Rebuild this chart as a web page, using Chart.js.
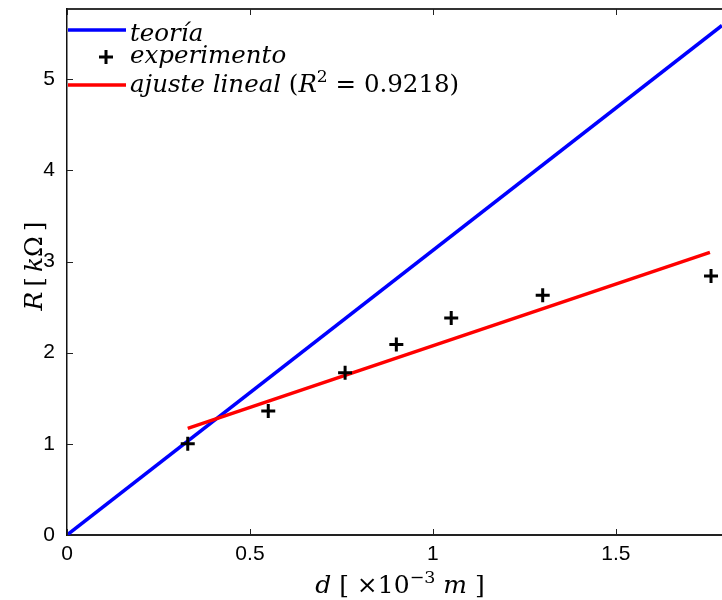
<!DOCTYPE html>
<html>
<head>
<meta charset="utf-8">
<script src="https://cdn.jsdelivr.net/npm/chart.js@4.4.1/dist/chart.umd.min.js"></script>
<style>
html,body{margin:0;padding:0;background:#fff;overflow:hidden;}
canvas{display:block;}
</style>
</head>
<body>
<canvas id="c" width="722" height="600"></canvas>
<script>
// ---- data ----
const dTheory = [0, 1.79];
const RTheory = [0, 5.59];
const dExp = [0.33, 0.55, 0.76, 0.90, 1.05, 1.30, 1.76];
const RExp = [1.00, 1.36, 1.78, 2.09, 2.38, 2.63, 2.84];
const dFit = [0.33, 1.757];
const RFit = [1.17, 3.10];
const xTicks = [0, 0.5, 1, 1.5];
const yTicks = [0, 1, 2, 3, 4, 5];
const xRange = [0, 1.79];
const yRange = [0, 5.77];
const legendLabels = ['teoría', 'experimento', 'ajuste lineal'];
const fitR2 = '0.9218';

const toPts = (xs, ys) => xs.map((x, i) => ({x: x, y: ys[i]}));

const SERIF = '"DejaVu Serif", "Liberation Serif", serif';
const SANS = '"Liberation Sans", Arial, sans-serif';

function drawRuns(ctx, runs, x, y, size, align) {
  const measure = r => {
    const s = r.sup ? size * 0.7 : size;
    ctx.font = (r.it ? 'italic ' : '') + s + 'px ' + SERIF;
    return ctx.measureText(r.t).width;
  };
  let total = 0;
  runs.forEach(r => total += measure(r));
  let cx = align === 'center' ? x - total / 2 : x;
  ctx.textBaseline = 'alphabetic';
  ctx.textAlign = 'left';
  runs.forEach(r => {
    const w = measure(r);
    ctx.fillText(r.t, cx, r.sup ? y - size * 0.42 : y);
    cx += w;
  });
}

const decor = {
  id: 'decor',
  afterDatasetsDraw(chart) {
    const ctx = chart.ctx;
    const a = chart.chartArea;
    const xs = chart.scales.x, ys = chart.scales.y;
    ctx.save();
    ctx.strokeStyle = '#222';
    ctx.lineWidth = 1;
    xs.ticks.forEach(t => {
      const px = Math.round(xs.getPixelForValue(t.value)) + 0.5;
      ctx.beginPath();
      ctx.moveTo(px, a.bottom); ctx.lineTo(px, a.bottom - 6);
      ctx.moveTo(px, a.top); ctx.lineTo(px, a.top + 6);
      ctx.stroke();
    });
    ys.ticks.forEach(t => {
      const py = Math.round(ys.getPixelForValue(t.value)) + 0.5;
      ctx.beginPath();
      ctx.moveTo(a.left, py); ctx.lineTo(a.left + 6, py);
      ctx.stroke();
    });
    // legend
    const lx0 = a.left + 1, lx1 = a.left + 59, tx = a.left + 63;
    const rows = [a.top + 21, a.top + 48, a.top + 76];
    ctx.lineWidth = 3.5;
    ctx.strokeStyle = '#0000ff';
    ctx.beginPath(); ctx.moveTo(lx0, rows[0]); ctx.lineTo(lx1, rows[0]); ctx.stroke();
    ctx.strokeStyle = '#ff0000';
    ctx.beginPath(); ctx.moveTo(lx0, rows[2]); ctx.lineTo(lx1, rows[2]); ctx.stroke();
    ctx.strokeStyle = '#000';
    ctx.lineWidth = 3;
    const mx = (lx0 + lx1) / 2 + 9, my = rows[1];
    ctx.beginPath();
    ctx.moveTo(mx - 7, my); ctx.lineTo(mx + 7, my);
    ctx.moveTo(mx, my - 7); ctx.lineTo(mx, my + 7);
    ctx.stroke();
    ctx.fillStyle = '#000';
    const fs = 24.5;
    drawRuns(ctx, [{t: legendLabels[0], it: true}], tx, rows[0] + 11, fs);
    drawRuns(ctx, [{t: legendLabels[1], it: true}], tx, rows[1] + 6, fs);
    drawRuns(ctx, [{t: legendLabels[2], it: true}, {t: ' (', it: false}, {t: 'R', it: true},
      {t: '2', sup: true}, {t: ' = ' + fitR2 + ')', it: false}], tx, rows[2] + 7, fs);
    // axis titles
    drawRuns(ctx, [{t: 'd', it: true}, {t: ' [ ×', it: false}, {t: '10', it: false},
      {t: '−3', sup: true}, {t: ' ', it: false}, {t: 'm', it: true}, {t: ' ]', it: false}],
      400, 593, 25, 'center');
    ctx.translate(42, 266);
    ctx.rotate(-Math.PI / 2);
    drawRuns(ctx, [{t: 'R', it: true}, {t: '\u2009[\u2009', it: false}, {t: 'k', it: true},
      {t: 'Ω', it: false}, {t: '\u2009]', it: false}], 0, 0, 25, 'center');
    ctx.restore();
  }
};

new Chart(document.getElementById('c'), {
  type: 'scatter',
  data: {
    datasets: [
      {
        label: legendLabels[0], type: 'line', data: toPts(dTheory, RTheory),
        borderColor: '#0000ff', borderWidth: 3.5, pointRadius: 0, fill: false, order: 3
      },
      {
        label: legendLabels[2], type: 'line', data: toPts(dFit, RFit),
        borderColor: '#ff0000', borderWidth: 3.5, pointRadius: 0, fill: false, order: 2
      },
      {
        label: legendLabels[1], data: toPts(dExp, RExp),
        pointStyle: 'cross', pointRadius: 7, borderWidth: 3,
        borderColor: '#000', backgroundColor: '#000', order: 1
      }
    ]
  },
  options: {
    responsive: false,
    animation: false,
    layout: {autoPadding: false, padding: {top: 9, right: 0, left: 0, bottom: 0}},
    plugins: {legend: {display: false}, tooltip: {enabled: false}},
    scales: {
      x: {
        type: 'linear', min: xRange[0], max: xRange[1], position: 'bottom',
        afterBuildTicks: s => { s.ticks = xTicks.map(v => ({value: v})); },
        afterFit: s => { s.height = 65; s.paddingLeft = 0; s.paddingRight = 0; },
        grid: {display: false, drawTicks: false},
        border: {display: true, color: '#222', width: 2},
        ticks: {padding: 7, color: '#000', font: {family: SANS, size: 21}, maxRotation: 0,
          callback: v => String(v)}
      },
      x2: {
        type: 'linear', min: xRange[0], max: xRange[1], position: 'top',
        afterFit: s => { s.height = 0; s.paddingLeft = 0; s.paddingRight = 0; },
        grid: {display: false, drawTicks: false},
        border: {display: true, color: '#333', width: 2},
        ticks: {display: false}
      },
      y: {
        type: 'linear', min: yRange[0], max: yRange[1],
        afterBuildTicks: s => { s.ticks = yTicks.map(v => ({value: v})); },
        afterFit: s => { s.width = 67; s.paddingTop = 0; s.paddingBottom = 0; },
        grid: {display: false, drawTicks: false},
        border: {display: true, color: '#111', width: 1.5},
        ticks: {padding: 12, color: '#000', font: {family: SANS, size: 21},
          callback: v => String(v)}
      }
    }
  },
  plugins: [decor]
});
</script>
</body>
</html>
